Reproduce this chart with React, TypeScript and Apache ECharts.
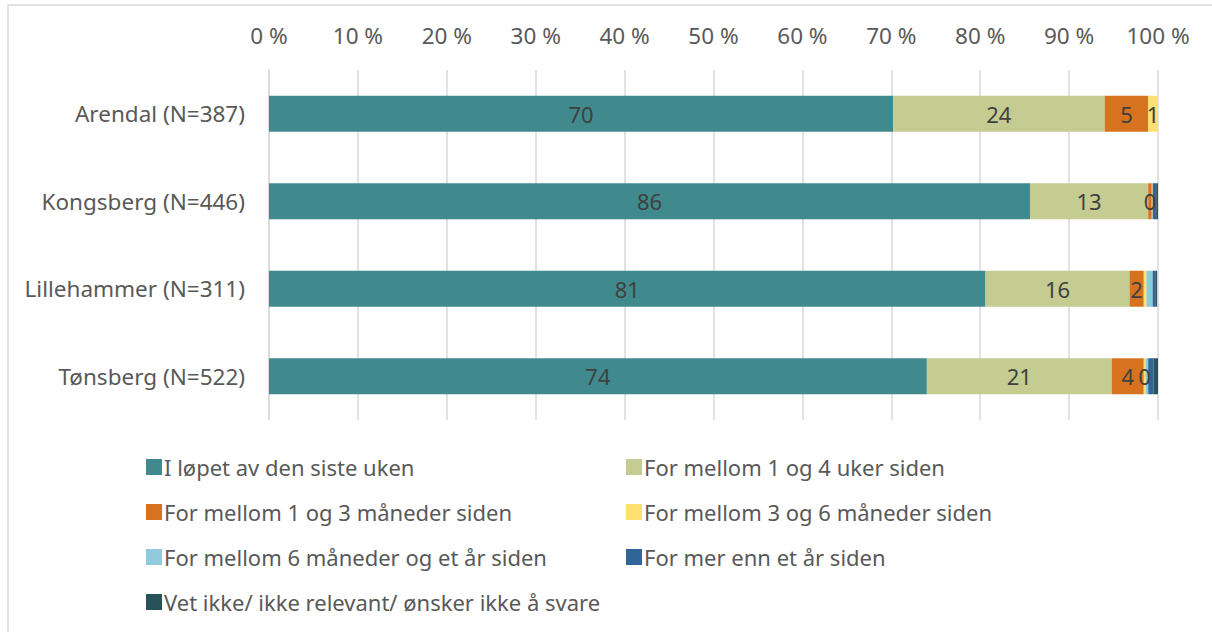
import React, { useEffect, useRef } from "react";
import * as echarts from "echarts";

const categories = ["Arendal (N=387)", "Kongsberg (N=446)", "Lillehammer (N=311)", "Tønsberg (N=522)"];
const seriesNames = [
  "I løpet av den siste uken",
  "For mellom 1 og 4 uker siden",
  "For mellom 1 og 3 måneder siden",
  "For mellom 3 og 6 måneder siden",
  "For mellom 6 måneder og et år siden",
  "For mer enn et år siden",
  "Vet ikke/ ikke relevant/ ønsker ikke å svare",
];
const colors = ["#408A8E", "#C5CC91", "#D7731F", "#FFE070", "#8DCBDD", "#2F6598", "#27525A"];
const lastWeek = [70.2, 85.6, 80.6, 74.0];
const oneToFourWeeks = [23.8, 13.3, 16.2, 20.8];
const oneToThreeMonths = [4.9, 0.4, 1.6, 3.6];
const threeToSixMonths = [1.1, 0.1, 0.3, 0.2];
const sixMonthsToYear = [0, 0, 0.7, 0.3];
const moreThanYear = [0, 0.4, 0.3, 0.6];
const dontKnow = [0, 0.2, 0.2, 0.5];
const seriesValues = [lastWeek, oneToFourWeeks, oneToThreeMonths, threeToSixMonths, sixMonthsToYear, moreThanYear, dontKnow];
// which data labels are visible (per series, per category)
const labelShown = [
  [true, true, true, true],
  [true, true, true, true],
  [true, true, true, true],
  [true, false, false, true],
  [false, false, false, false],
  [false, false, false, false],
  [false, false, false, false],
];
const xTicks = [0, 10, 20, 30, 40, 50, 60, 70, 80, 90, 100];

const FONT = "Noto Sans";
const FS = 22;
const AXFS = 22.5;

export default function App() {
  const ref = useRef<HTMLDivElement>(null);
  useEffect(() => {
    if (!ref.current) return;
    const chart = echarts.init(ref.current, null, { renderer: "svg" });
    const series = seriesNames.map((name, si) => ({
      name,
      type: "bar",
      stack: "total",
      barWidth: 36,
      itemStyle: { color: colors[si] },
      data: seriesValues[si].map((v, ci) => ({
        value: v,
        label: { show: labelShown[si][ci] },
      })),
      label: {
        position: "inside",
        color: "#404040",
        fontFamily: FONT,
        fontSize: FS,
        formatter: (p: any) => String(Math.round(p.value)),
      },
    }));
    chart.setOption({
      animation: false,
      backgroundColor: "#ffffff",
      grid: { left: 269, right: 54, top: 70, bottom: 212, containLabel: false },
      xAxis: {
        type: "value",
        position: "top",
        min: xTicks[0],
        max: xTicks[xTicks.length - 1],
        interval: 10,
        axisLine: { show: false },
        axisTick: { show: false },
        splitLine: { show: true, lineStyle: { color: "#d9d9d9", width: 1.5 } },
        axisLabel: {
          formatter: "{value} %",
          color: "#595959",
          fontFamily: FONT,
          fontSize: AXFS,
          margin: 23,
        },
      },
      yAxis: {
        type: "category",
        inverse: true,
        data: categories,
        axisLine: { show: true, lineStyle: { color: "#d9d9d9", width: 1.5 } },
        axisTick: { show: false },
        axisLabel: { color: "#595959", fontFamily: FONT, fontSize: AXFS, margin: 24 },
      },
      legend: [
        {
          orient: "vertical",
          left: 141,
          top: 451,
          itemWidth: 16,
          itemHeight: 16,
          itemGap: 23,
          icon: "rect",
          data: [seriesNames[0], seriesNames[2], seriesNames[4], seriesNames[6]],
          textStyle: { color: "#595959", fontFamily: FONT, fontSize: FS, padding: [0, 0, 0, -3] },
          selectedMode: false,
        },
        {
          orient: "vertical",
          left: 621,
          top: 451,
          itemWidth: 16,
          itemHeight: 16,
          itemGap: 23,
          icon: "rect",
          data: [seriesNames[1], seriesNames[3], seriesNames[5]],
          textStyle: { color: "#595959", fontFamily: FONT, fontSize: FS, padding: [0, 0, 0, -3] },
          selectedMode: false,
        },
      ],
      graphic: [
        {
          type: "rect",
          shape: { x: 8, y: 5, width: 1300, height: 700 },
          style: { fill: "none", stroke: "#d9d9d9", lineWidth: 1.5 },
          silent: true,
        },
      ],
      series,
    });
    return () => chart.dispose();
  }, []);
  return <div ref={ref} style={{ position: "fixed", left: 0, top: 0, width: 1212, height: 632 }} />;
}
